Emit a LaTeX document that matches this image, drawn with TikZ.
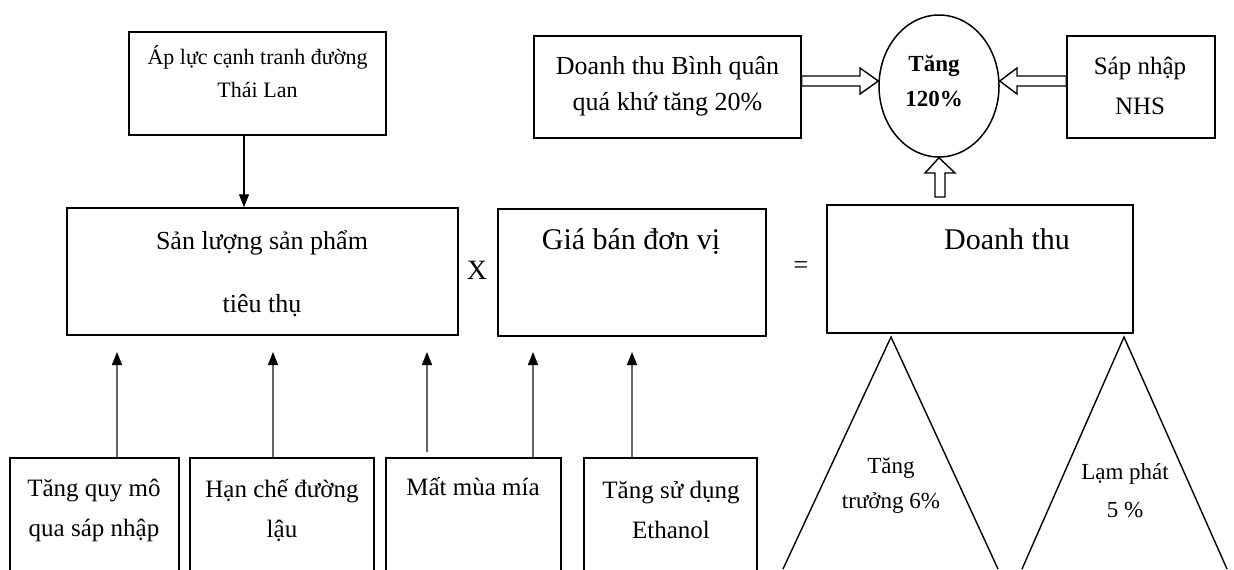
\documentclass[tikz,border=0pt]{standalone}
\usepackage{fontspec}
\setmainfont{Liberation Serif}
\usetikzlibrary{arrows.meta,positioning,shapes.geometric}
\begin{document}
\begin{tikzpicture}[x=0.5pt,y=-0.5pt,
  box/.style={draw,line width=0.75pt,inner sep=0pt},
  txt/.style={inner sep=0pt,align=center,font=\fontsize{12.5}{20}\selectfont},
  up/.style={draw=black!60,line width=0.8pt,-{Triangle[width=5pt,length=6.5pt,color=black]}},
  hollow/.style={draw,line width=0.7pt,fill=white}]
 \useasboundingbox (0,0) rectangle (1234,569);
 \clip (0,0) rectangle (1234,569);
 % hang tren
 \node[box,minimum width=128.5pt,minimum height=51.5pt] (ap) at (257.5,83.5) {};
 \node[txt,font=\fontsize{11}{16.5}\selectfont] (aptxt) at (257.5,72) {Áp lực cạnh tranh đường\\Thái Lan};
 \node[box,minimum width=133.5pt,minimum height=51pt] (dtbq) at (667.5,87) {};
 \node[txt,font=\fontsize{13}{18}\selectfont] (dtbqtxt) at (667.5,86) {Doanh thu Bình quân\\quá khứ tăng 20\%};
 \node[box,ellipse,minimum width=60pt,minimum height=71pt] (circ) at (939,86) {};
 \node[txt,font=\fontsize{11.5}{17.5}\bfseries] (circtxt) at (934,81) {Tăng\\120\%};
 \node[box,minimum width=74pt,minimum height=51pt] (nhs) at (1141,87) {};
 \node[txt] (nhstxt) at (1140,86) {Sáp nhập\\NHS};
 % hang giua
 \node[box,minimum width=195.5pt,minimum height=63.5pt] (sl) at (262.5,271.5) {};
 \node[txt,font=\fontsize{13}{31.5}\selectfont] (sltxt) at (262,274) {Sản lượng sản phẩm\\tiêu thụ};
 \node[txt,font=\fontsize{14}{16}\selectfont] (nhan) at (477,270) {X};
 \node[box,minimum width=134pt,minimum height=63.5pt] (gia) at (632,272.5) {};
 \node[txt,font=\fontsize{15}{18}\selectfont] (giatxt) at (631,242) {Giá bán đơn vị};
 \node[txt,font=\fontsize{13}{16}\selectfont] (bang) at (801,268) {=};
 \node[box,minimum width=153pt,minimum height=64pt] (dt) at (980,269) {};
 \node[txt,font=\fontsize{15}{18}\selectfont] (dttxt) at (1007,239) {Doanh thu};
 % hang duoi
 \node[box,minimum width=84.5pt,minimum height=70pt] (b1) at (94.5,528) {};
 \node[box,minimum width=92pt,minimum height=70pt] (b2) at (282,528) {};
 \node[box,minimum width=87.5pt,minimum height=70pt] (b3) at (473.5,528) {};
 \node[box,minimum width=86.5pt,minimum height=70pt] (b4) at (670.5,528) {};
 \node[txt] (b1txt) at (94,510) {Tăng quy mô\\qua sáp nhập};
 \node[txt] (b2txt) at (282,510) {Hạn chế đường\\lậu};
 \node[txt] (b3txt) at (473,487) {Mất mùa mía};
 \node[txt] (b4txt) at (671,510) {Tăng sử dụng\\Ethanol};
 % mui ten
 \draw[line width=0.7pt,-{Triangle[width=5pt,length=6.5pt]}] (ap.south -| 244,0) -- (sl.north -| 244,0);
 \coordinate (t1) at (117,352);
 \coordinate (t2) at (273,352);
 \coordinate (t3) at (427,352);
 \coordinate (t4) at (533,352);
 \coordinate (t5) at (632,352);
 \draw[up] (b1.north -| t1) -- (t1);
 \draw[up] (b2.north -| t2) -- (t2);
 \draw[up] (427,452) -- (t3);
 \draw[up] (b3.north -| t4) -- (t4);
 \draw[up] (b4.north -| t5) -- (t5);
 % mui ten rong
 \draw[hollow] (dtbq.east |- 0,76) -- (860,76) -- (860,68) -- (circ.west |- 0,81)
   -- (860,94) -- (860,86) -- (dtbq.east |- 0,86) -- cycle;
 \draw[hollow] (nhs.west |- 0,76) -- (1017,76) -- (1017,68) -- (circ.east |- 0,81)
   -- (1017,94) -- (1017,86) -- (nhs.west |- 0,86) -- cycle;
 \draw[hollow] (935,197) -- (935,173) -- (925,173) -- (circ.south)
   -- (955,173) -- (945,173) -- (945,197) -- cycle;
 % tam giac
 \draw[line width=0.7pt] (783,569) -- (891,337) -- (998,569);
 \draw[line width=0.7pt] (1022,569) -- (1124,337) -- (1227,569);
 \node[txt,font=\fontsize{11.5}{17.5}\selectfont] (tg1) at (891,486) {Tăng\\trưởng 6\%};
 \node[txt,font=\fontsize{11.5}{19}\selectfont] (tg2) at (1125,491) {Lạm phát\\5 \%};
\end{tikzpicture}
\end{document}
